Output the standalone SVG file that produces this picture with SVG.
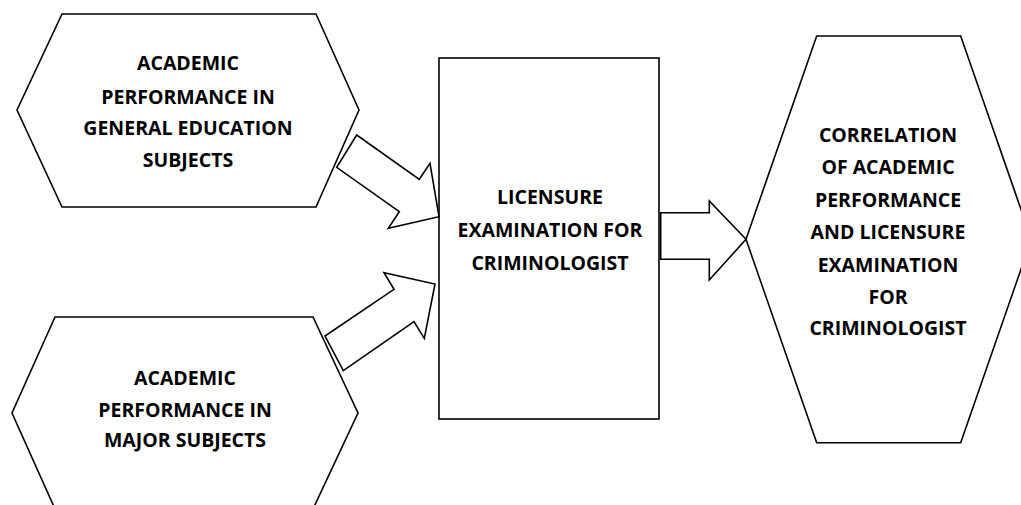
<svg xmlns="http://www.w3.org/2000/svg" width="1021" height="505" viewBox="0 0 1021 505">
<style>
.shape{fill:#fff;stroke:#000;stroke-width:1.6;stroke-linejoin:miter}
.arrow{fill:#fff;stroke:#000;stroke-width:1.6;stroke-linejoin:miter}
.t{font-family:"Open Sans","Liberation Sans",sans-serif;font-weight:700;font-size:19.5px;fill:#000;text-anchor:middle}
</style>
<rect width="1021" height="505" fill="#fff"/>
<g id="node-gened">
<polygon class="shape" points="62,14 316,14 359,110 316,207 62,207 17,110"/>
<text class="t" x="188" y="70">ACADEMIC</text>
<text class="t" x="188" y="104">PERFORMANCE IN</text>
<text class="t" x="188" y="135">GENERAL EDUCATION</text>
<text class="t" x="188" y="167">SUBJECTS</text>
</g>
<g id="node-major">
<polygon class="shape" points="55,317 313,317 358,413 313,509 55,509 12,413"/>
<text class="t" x="185" y="385">ACADEMIC</text>
<text class="t" x="185" y="417">PERFORMANCE IN</text>
<text class="t" x="185" y="447">MAJOR SUBJECTS</text>
</g>
<g id="node-licensure">
<rect class="shape" x="439" y="58" width="220" height="361"/>
<text class="t" x="550" y="204">LICENSURE</text>
<text class="t" x="550" y="237">EXAMINATION FOR</text>
<text class="t" x="550" y="270">CRIMINOLOGIST</text>
</g>
<g id="node-correlation">
<polygon class="shape" points="816.7,36 960.7,36 1031.4,239.3 960.7,442.7 816.7,442.7 746,239.3"/>
<text class="t" x="888" y="142">CORRELATION</text>
<text class="t" x="888" y="174">OF ACADEMIC</text>
<text class="t" x="888" y="207">PERFORMANCE</text>
<text class="t" x="888" y="239">AND LICENSURE</text>
<text class="t" x="888" y="272">EXAMINATION</text>
<text class="t" x="888" y="304">FOR</text>
<text class="t" x="888" y="335">CRIMINOLOGIST</text>
</g>
<g id="connectors">
<polygon class="arrow" points="356.7,135 419.3,179.3 430,163.3 439,216.7 388.3,228.3 399.3,211.7 336.7,167.3"/>
<polygon class="arrow" points="325,336 394,289.3 384,272.7 435,284 424.3,338.3 414,321.7 343.3,370.7"/>
<polygon class="arrow" points="660.7,212.7 709.3,212.7 709.3,201 746,239.3 709.3,280 709.3,259.3 660.7,259.3"/>
</g>
</svg>
